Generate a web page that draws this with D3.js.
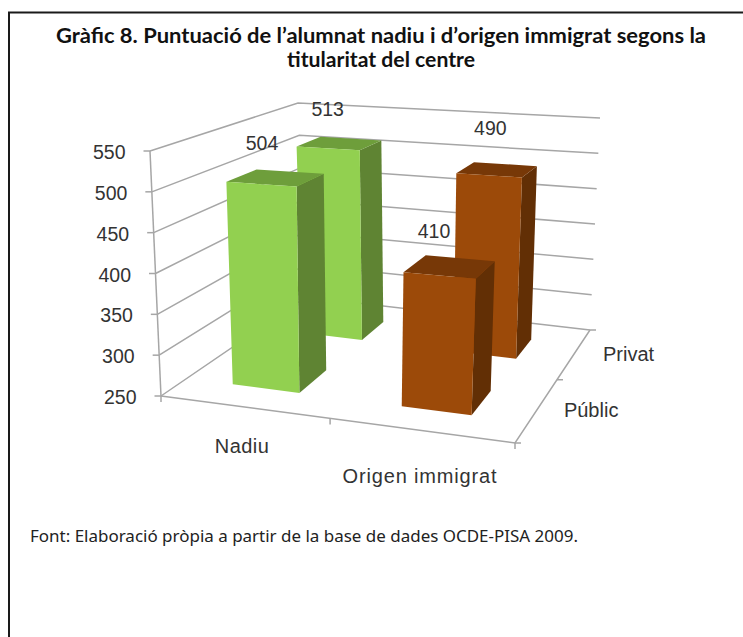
<!DOCTYPE html>
<html lang="ca">
<head>
<meta charset="utf-8">
<script src="https://cdn.jsdelivr.net/npm/d3@7/dist/d3.min.js"></script>
<style>
html,body{margin:0;padding:0;background:#fff;}
svg{display:block;}
</style>
</head>
<body>
<svg id="chart" width="743" height="637"></svg>
<script>
// ---- data ----
const titleLines = ["Gràfic 8. Puntuació de l’alumnat nadiu i d’origen immigrat segons la", "titularitat del centre"];
const sourceNote = "Font: Elaboració pròpia a partir de la base de dades OCDE-PISA 2009.";
const categories = ["Nadiu", "Origen immigrat"];
const depths = ["Públic", "Privat"];
const valuesPublic = [504, 410];
const valuesPrivat = [513, 490];
const valueTicks = [250, 300, 350, 400, 450, 500, 550];

// ---- layout ----
const W = 743, H = 637;
const svg = d3.select("#chart");
const floorQuad = [[161,396],[515,443],[590,330],[306,297]];   // front-left, front-right, back-right, back-left
const ceilCorners = {fl:[150,151], br:[600,118], bl:[298,103]};
const palette = {
  "Nadiu": {front:"#92D050", top:"#6E9E3B", side:"#5F8433"},
  "Origen immigrat": {front:"#9C4A09", top:"#773807", side:"#622F05"}
};
const gridColor = "#A6A6A6", textColor = "#333";

function homography(q){
  const [[x0,y0],[x1,y1],[x2,y2],[x3,y3]] = q;
  const dx1=x1-x2, dx2=x3-x2, sx=x0-x1+x2-x3;
  const dy1=y1-y2, dy2=y3-y2, sy=y0-y1+y2-y3;
  const den=dx1*dy2-dx2*dy1;
  const g=(sx*dy2-dx2*sy)/den, h=(dx1*sy-sx*dy1)/den;
  const a=x1-x0+g*x1, b=x3-x0+h*x3, d=y1-y0+g*y1, e=y3-y0+h*y3;
  return (u,v)=>{const w=1+g*u+h*v; return [(a*u+b*v+x0)/w,(d*u+e*v+y0)/w];};
}
const floorH = homography(floorQuad);

// The upward vector of a vertical edge is an affine function of its floor point.
function affineFit(p1,p2,p3,f1,f2,f3){
  const ax=p1[0]-p3[0], ay=p1[1]-p3[1], bx=p2[0]-p3[0], by=p2[1]-p3[1];
  const det=ax*by-ay*bx;
  const A=((f1-f3)*by-(f2-f3)*ay)/det, B=(ax*(f2-f3)-bx*(f1-f3))/det;
  const C=f3-A*p3[0]-B*p3[1];
  return (x,y)=>A*x+B*y+C;
}
const [FL,,BR,BL] = floorQuad;
const upX = affineFit(FL,BR,BL, ceilCorners.fl[0]-FL[0], ceilCorners.br[0]-BR[0], ceilCorners.bl[0]-BL[0]);
const upY = affineFit(FL,BR,BL, ceilCorners.fl[1]-FL[1], ceilCorners.br[1]-BR[1], ceilCorners.bl[1]-BL[1]);

const yFrac = d3.scaleLinear().domain([250,550]).range([0,1]);
const uScale = d3.scaleBand().domain(categories).range([-0.01,0.99]).paddingInner(0.6).paddingOuter(0.3);
const vScale = d3.scaleBand().domain(depths).range([0,0.98]).paddingInner(0.6).paddingOuter(0.3);

function P(u,v,val){
  const f=floorH(u,v), t=yFrac(val);
  return [f[0]+upX(f[0],f[1])*t, f[1]+upY(f[0],f[1])*t];
}
const line = d3.line();
const closed = d3.line().curve(d3.curveLinearClosed);

// ---- frame ----
svg.append("path").attr("d",line([[9,H],[9,12.5],[W,12.5]]))
  .attr("fill","none").attr("stroke","#1a1a1a").attr("stroke-width",2);

// ---- title & note ----
const titleAttrs=[{x:56,y:43,len:650},{x:287,y:67,len:188}];
svg.selectAll("text.title").data(titleLines).join("text").attr("class","title")
  .attr("x",(d,i)=>titleAttrs[i].x).attr("y",(d,i)=>titleAttrs[i].y)
  .attr("textLength",(d,i)=>titleAttrs[i].len).attr("lengthAdjust","spacingAndGlyphs")
  .attr("font-family","Lato").attr("font-weight",700).attr("font-size",20).attr("fill","#111")
  .text(d=>d);
svg.append("text").attr("x",30).attr("y",541.5).attr("textLength",548).attr("lengthAdjust","spacingAndGlyphs")
  .attr("font-family","'Noto Sans'").attr("font-size",16).attr("fill","#222").text(sourceNote);

// ---- walls ----
const grid = svg.append("g").attr("fill","none").attr("stroke",gridColor).attr("stroke-width",1.5);
valueTicks.forEach(t=>{
  grid.append("path").attr("d",line([P(0,0,t),P(0,1,t),P(1,1,t)]));
  const p=P(0,0,t);
  grid.append("path").attr("d",line([[p[0]-6.5,p[1]],p]));
});
grid.append("path").attr("d",line([P(0,0,550),P(0,0,250)]));
grid.append("path").attr("d",line([floorH(0,0),floorH(1,0),floorH(1,1)]));
// ticks on the floor edges
[0,0.49,1].forEach(u=>{const p=floorH(u,0); grid.append("path").attr("d",line([p,[p[0],p[1]+6]]));});
[0,0.5,1].forEach(v=>{const p=floorH(1,v); grid.append("path").attr("d",line([p,[p[0]+6,p[1]]]));});

// ---- value tick labels ----
svg.selectAll("text.tick").data(valueTicks).join("text").attr("class","tick")
  .attr("x",d=>P(0,0,d)[0]-24.5).attr("y",d=>P(0,0,d)[1]+8)
  .attr("text-anchor","end").attr("font-family","'Liberation Sans'").attr("font-size",19.5)
  .attr("fill",textColor).text(d=>d);

// ---- bars, back row first ----
const rows = [
  {depth:"Privat", vals:valuesPrivat},
  {depth:"Públic", vals:valuesPublic}
];
const bars = svg.append("g");
rows.forEach(r=>{
  categories.forEach((c,i)=>{
    const u0=uScale(c), u1=u0+uScale.bandwidth();
    const v0=vScale(r.depth), v1=v0+vScale.bandwidth();
    const val=r.vals[i], col=palette[c];
    const g=bars.append("g");
    g.append("path").attr("fill",col.side).attr("d",closed([P(u1,v0,250),P(u1,v1,250),P(u1,v1,val),P(u1,v0,val)]));
    g.append("path").attr("fill",col.top).attr("d",closed([P(u0,v0,val),P(u1,v0,val),P(u1,v1,val),P(u0,v1,val)]));
    g.append("path").attr("fill",col.front).attr("d",closed([P(u0,v0,250),P(u1,v0,250),P(u1,v0,val),P(u0,v0,val)]));
  });
});

// ---- data labels (offset from each bar's top centre) ----
const labelShift = {
  "Públic|Nadiu":[-14,-28], "Privat|Nadiu":[-12,-27],
  "Públic|Origen immigrat":[-16,-29], "Privat|Origen immigrat":[-7,-35]
};
rows.forEach(r=>{
  categories.forEach((c,i)=>{
    const val=r.vals[i];
    const p=P(uScale(c)+uScale.bandwidth()/2, vScale(r.depth)+vScale.bandwidth()/2, val);
    const s=labelShift[r.depth+"|"+c];
    svg.append("text").attr("x",p[0]+s[0]).attr("y",p[1]+s[1]).attr("text-anchor","middle")
      .attr("font-family","'Liberation Sans'").attr("font-size",19.5).attr("fill",textColor).text(val);
  });
});

// ---- category labels ----
const catShift={"Nadiu":[-1,46],"Origen immigrat":[0,53]};
const catLen={"Nadiu":54,"Origen immigrat":154};
svg.selectAll("text.cat").data(categories).join("text").attr("class","cat")
  .attr("x",d=>floorH(uScale(d)+uScale.bandwidth()/2,0)[0]+catShift[d][0])
  .attr("y",d=>floorH(uScale(d)+uScale.bandwidth()/2,0)[1]+catShift[d][1])
  .attr("text-anchor","middle").attr("font-family","'Liberation Sans'").attr("font-size",20)
  .attr("textLength",d=>catLen[d]).attr("lengthAdjust","spacing")
  .attr("fill",textColor).text(d=>d);
const depthShift={"Públic":[27,7],"Privat":[29.5,6]};
svg.selectAll("text.depth").data(depths).join("text").attr("class","depth")
  .attr("x",d=>floorH(1,vScale(d)+vScale.bandwidth()/2)[0]+depthShift[d][0])
  .attr("y",d=>floorH(1,vScale(d)+vScale.bandwidth()/2)[1]+depthShift[d][1])
  .attr("font-family","'Liberation Sans'").attr("font-size",20)
  .attr("fill",textColor).text(d=>d);
</script>
</body>
</html>
